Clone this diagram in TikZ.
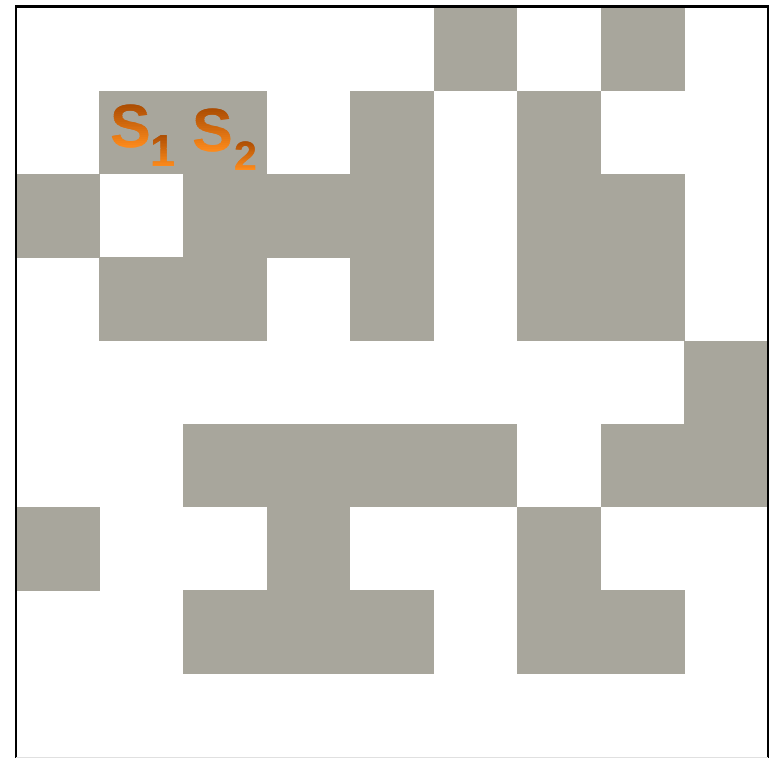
\documentclass[tikz,border=0pt]{standalone}
\usepackage{fontspec}
\setmainfont{Liberation Sans}
\definecolor{cellgray}{HTML}{A8A69C}
\definecolor{orangedark}{HTML}{A84A02}
\definecolor{orangelight}{HTML}{FF8C1C}
\tikzset{
  cell/.style={fill=cellgray},
  bigS/.style={anchor=base west, inner sep=0pt, font=\fontsize{61}{61}\selectfont\bfseries},
  subA/.style={anchor=base west, inner sep=0pt, font=\fontsize{45}{45}\selectfont\bfseries},
  subB/.style={anchor=base west, inner sep=0pt, font=\fontsize{41}{41}\selectfont\bfseries},
}
% gradient text: name, x, baseline y, style, text, top y, bottom y
\newcommand{\gradtxt}[7]{%
  \foreach \i in {0,...,23}{%
    \pgfmathsetmacro{\ya}{#6+(#7-#6)*\i/24}%
    \pgfmathsetmacro{\yb}{#6+(#7-#6)*(\i+1)/24+0.4}%
    \pgfmathsetmacro{\pc}{100*\i/23}%
    \begin{scope}
      \clip (0,\ya) rectangle (769,\yb);
      \node[#4, text=orangelight!\pc!orangedark] (#1-\i) at (#2,#3) {#5};
    \end{scope}
  }%
}
\begin{document}
\begin{tikzpicture}[x=1pt,y=-1pt]
\useasboundingbox (0,0) rectangle (769,758);
\pgfmathsetmacro{\cw}{83.55}
\pgfmathsetmacro{\ch}{83.3}
\foreach \c/\r in {5/0,7/0,
  1/1,2/1,4/1,6/1,
  0/2,2/2,3/2,4/2,6/2,7/2,
  1/3,2/3,4/3,6/3,7/3,
  8/4,
  2/5,3/5,4/5,5/5,7/5,8/5,
  0/6,3/6,6/6,
  2/7,3/7,4/7,6/7,7/7}
{
  \path[cell] ({16+\c*\cw-0.15},{7.5+\r*\ch-0.15}) rectangle ++(\cw+0.3,\ch+0.3);
}
% border
\draw[line width=2.2pt, line cap=rect] (16,758) -- (16,6.5) -- (767.7,6.5) -- (767.7,758);
\draw[line width=0.8pt, draw=black!12] (16,757.4) -- (767.7,757.4);
% labels with vertical gradient
\gradtxt{s1}{110}{147.5}{bigS}{S}{103}{149}
\gradtxt{s1sub}{150}{166.7}{subA}{1}{133}{168}
\gradtxt{s2}{192.5}{151}{bigS}{S}{107}{153}
\gradtxt{s2sub}{234.5}{170}{subB}{2}{140}{171}
\end{tikzpicture}
\end{document}
